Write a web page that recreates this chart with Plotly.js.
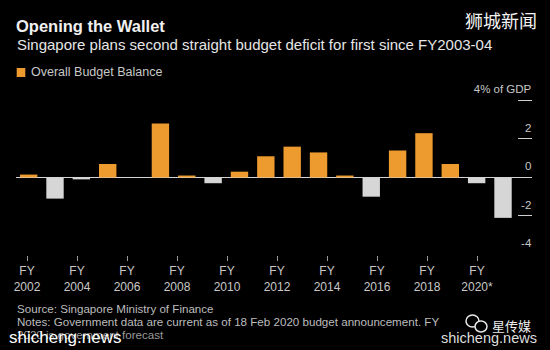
<!DOCTYPE html>
<html>
<head>
<meta charset="utf-8">
<script src="https://cdn.plot.ly/plotly-3.0.1.min.js"></script>
<style>html,body{margin:0;padding:0;background:#000;}#chart{width:550px;height:350px;}</style>
</head>
<body>
<div id="chart"></div>
<script>
// ---- data ----
const years = [2002, 2003, 2004, 2005, 2006, 2007, 2008, 2009, 2010, 2011,
               2012, 2013, 2014, 2015, 2016, 2017, 2018, 2019, 2020];
const balance = [0.15, -1.1, -0.1, 0.7, 0.0, 2.8, 0.1, -0.3, 0.3, 1.1,
                 1.6, 1.3, 0.1, -1.0, 1.4, 2.3, 0.7, -0.3, -2.1];
const tickYears = [2002, 2004, 2006, 2008, 2010, 2012, 2014, 2016, 2018, 2020];
const tickLabels = ['FY<br>2002', 'FY<br>2004', 'FY<br>2006', 'FY<br>2008', 'FY<br>2010',
                    'FY<br>2012', 'FY<br>2014', 'FY<br>2016', 'FY<br>2018', 'FY<br>2020*'];
const yTickVals = [-4, -2, 0, 2, 4];
const yTickText = ['-4', '-2', '0', '2', '4% of GDP'];
const seriesName = 'Overall Budget Balance';

// ---- layout helpers ----
const W = 550, H = 350;
const M = {l: 16, r: 18, t: 97, b: 95};
const PW = W - M.l - M.r, PH = H - M.t - M.b;
const px = x => (x - M.l) / PW;          // pixel x -> paper x
const py = y => (H - M.b - y) / PH;      // pixel y -> paper y

const ORANGE = '#ED9A2E', GREY = '#D6D6D6';
const FONT = 'Liberation Sans, Arial, sans-serif';

const traces = [
  {
    type: 'bar', x: years, y: balance, name: seriesName,
    marker: {color: balance.map(v => v >= 0 ? ORANGE : GREY), line: {width: 0}},
    hoverinfo: 'x+y'
  },
  {
    type: 'scatter', mode: 'markers', x: tickYears, y: tickYears.map(() => 0),
    xaxis: 'x2', yaxis: 'y', marker: {opacity: 0}, hoverinfo: 'skip', showlegend: false
  }
];

const layout = {
  width: W, height: H, margin: M,
  paper_bgcolor: '#000', plot_bgcolor: '#000',
  showlegend: false, bargap: 0.34,
  font: {family: FONT, color: '#c8c8c8'},
  title: {
    text: '<b>Opening the Wallet</b>',
    font: {family: FONT, size: 16.5, color: '#f0f0f0'},
    xref: 'container', yref: 'container', x: 16 / W, xanchor: 'left',
    y: 1 - 26.5 / H, yanchor: 'middle'
  },
  xaxis: {
    range: [2001.52, 2021.10], showticklabels: false, ticks: '',
    showgrid: false, zeroline: false, showline: false
  },
  xaxis2: {
    overlaying: 'x', anchor: 'y', side: 'bottom',
    range: [2001.56, 2022.2], tickmode: 'array', tickvals: tickYears, ticktext: tickLabels,
    ticks: 'outside', ticklen: 5, tickwidth: 1, tickcolor: '#9a9a9a',
    tickfont: {family: FONT, size: 12, color: '#c8c8c8'},
    showgrid: false, zeroline: false, showline: false
  },
  yaxis: {
    side: 'right', range: [-4.03, 4.18], tickmode: 'array',
    tickvals: yTickVals, ticktext: yTickText,
    ticks: 'inside', ticklen: 14, tickwidth: 1, tickcolor: '#cfcfcf',
    ticklabelposition: 'inside', ticklabelstandoff: -14, ticklabelshift: -11,
    ticklabeloverflow: 'allow',
    tickfont: {family: FONT, size: 11.5, color: '#c8c8c8'},
    showgrid: false, zeroline: true, zerolinecolor: '#d4d4d4', zerolinewidth: 1, showline: false
  },
  shapes: [
    {type: 'rect', xref: 'paper', yref: 'paper', x0: px(16.7), x1: px(25.3), y0: py(77), y1: py(68),
     fillcolor: ORANGE, line: {width: 0}},
    // WeChat-like bubbles
    {type: 'circle', xref: 'paper', yref: 'paper', x0: px(466), x1: px(479), y0: py(327), y1: py(315),
     line: {color: '#e8e8e8', width: 1.5}},
    {type: 'circle', xref: 'paper', yref: 'paper', x0: px(475), x1: px(487), y0: py(332), y1: py(321),
     line: {color: '#e8e8e8', width: 1.5}, fillcolor: '#000'}
  ],
  annotations: [
    {text: 'Singapore plans second straight budget deficit for first since FY2003-04',
     xref: 'paper', yref: 'paper', x: px(15), y: py(44.5), xanchor: 'left', yanchor: 'middle',
     showarrow: false, font: {family: FONT, size: 15, color: '#e6e6e6'}},
    {text: seriesName, xref: 'paper', yref: 'paper', x: px(29), y: py(71.5),
     xanchor: 'left', yanchor: 'middle', showarrow: false,
     font: {family: FONT, size: 12.5, color: '#c8c8c8'}},
    {text: 'Source: Singapore Ministry of Finance', xref: 'paper', yref: 'paper',
     x: px(15), y: py(308.3), xanchor: 'left', yanchor: 'middle', showarrow: false,
     font: {family: FONT, size: 11.6, color: '#bdbdbd'}},
    {text: 'Notes: Government data are current as of 18 Feb 2020 budget announcement. FY',
     xref: 'paper', yref: 'paper', x: px(15), y: py(321.3), xanchor: 'left', yanchor: 'middle',
     showarrow: false, font: {family: FONT, size: 11.6, color: '#bdbdbd'}},
    {text: '2020 is government forecast', xref: 'paper', yref: 'paper',
     x: px(15), y: py(334), xanchor: 'left', yanchor: 'middle', showarrow: false,
     font: {family: FONT, size: 11.6, color: '#9a9a9a'}},
    {text: 'shicheng.news', xref: 'paper', yref: 'paper', x: px(7), y: py(337),
     xanchor: 'left', yanchor: 'middle', showarrow: false,
     font: {family: FONT, size: 17, color: '#ffffff'}},
    {text: '狮城新闻', xref: 'paper', yref: 'paper', x: px(539), y: py(20),
     xanchor: 'right', yanchor: 'middle', showarrow: false,
     font: {family: 'Noto Sans CJK SC, sans-serif', size: 18, color: '#f2f2f2'}},
    {text: '星传媒', xref: 'paper', yref: 'paper', x: px(533), y: py(325),
     xanchor: 'right', yanchor: 'middle', showarrow: false,
     font: {family: 'Noto Sans CJK SC, sans-serif', size: 13, color: '#eeeeee'}},
    {text: 'shicheng.news', xref: 'paper', yref: 'paper', x: px(539), y: py(338),
     xanchor: 'right', yanchor: 'middle', showarrow: false,
     font: {family: FONT, size: 14.5, color: '#dddddd'}}
  ]
};

Plotly.newPlot('chart', traces, layout, {displayModeBar: false, staticPlot: true});
</script>
</body>
</html>
